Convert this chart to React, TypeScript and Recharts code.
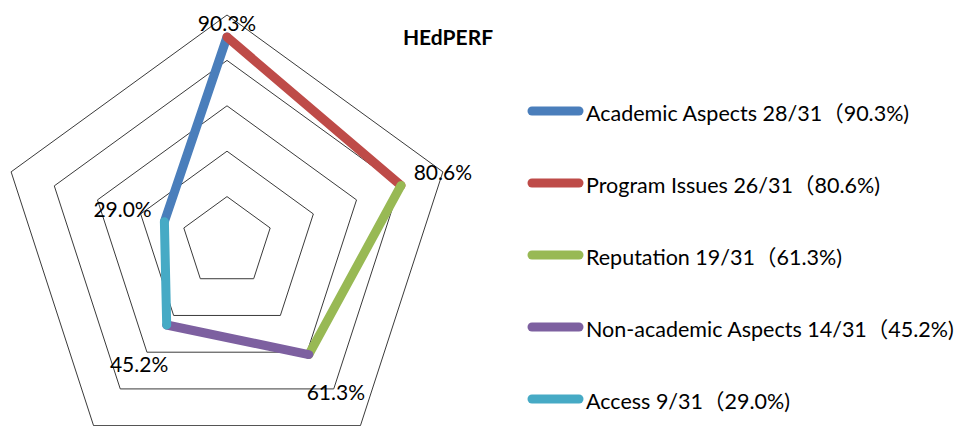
import React from 'react';
import { RadarChart, Radar, PolarGrid, PolarAngleAxis, PolarRadiusAxis, Legend } from 'recharts';

const categories = ['Academic Aspects', 'Program Issues', 'Reputation', 'Non-academic Aspects', 'Access'];
const percents = [90.3, 80.6, 61.3, 45.2, 29.0];
const counts = [28, 26, 19, 14, 9];
const total = 31;
const radiusTicks = [0, 20, 40, 60, 80, 100];
const colors = ['#4A7EBB', '#BE4B48', '#98B954', '#7D60A0', '#46AAC5'];

const FONT = 'Lato, "Noto Sans CJK SC", sans-serif';
const CX = 227;
const CY = 242;
const R = 227;
const labelOffsets = [15, 44, 46, 47, 44];

const seriesKeys = categories.map((_, i) => `s${i}`);

const data = categories.map((name, j) => {
  const row: Record<string, any> = { name, value: percents[j] };
  categories.forEach((_, i) => {
    const prev = (i - 1 + categories.length) % categories.length;
    row[seriesKeys[i]] = j === i || j === prev ? percents[j] : null;
  });
  return row;
});

const legendText = (i: number) =>
  `${categories[i]} ${counts[i]}/${total}（${percents[i].toFixed(1)}%)`;

const makeSegmentShape = (key: string, color: string) => (props: any) => {
  const pts = (props.points || []).filter((p: any) => p.payload && p.payload[key] != null);
  if (pts.length < 2) return <g />;
  return (
    <line
      x1={pts[0].x}
      y1={pts[0].y}
      x2={pts[1].x}
      y2={pts[1].y}
      stroke={color}
      strokeWidth={9}
      strokeLinecap="round"
    />
  );
};

const labelShape = (props: any) => {
  const pts = props.points || [];
  return (
    <g>
      {pts.map((p: any, i: number) => {
        const dx = p.x - p.cx;
        const dy = p.y - p.cy;
        const len = Math.sqrt(dx * dx + dy * dy) || 1;
        const off = labelOffsets[i];
        return (
          <text
            key={i}
            x={p.x + (dx / len) * off}
            y={p.y + (dy / len) * off}
            textAnchor="middle"
            dominantBaseline="central"
            fontFamily={FONT}
            fontSize={21}
            fill="#000"
          >
            {`${Number(p.value).toFixed(1)}%`}
          </text>
        );
      })}
    </g>
  );
};

const LegendContent = (props: any) => {
  const items = (props.payload || [])
    .filter((it: any) => seriesKeys.includes(it.dataKey))
    .sort((a: any, b: any) => seriesKeys.indexOf(a.dataKey) - seriesKeys.indexOf(b.dataKey));
  return (
    <div style={{ fontFamily: FONT }}>
      {items.map((it: any) => {
        const i = seriesKeys.indexOf(it.dataKey);
        return (
          <div key={it.dataKey} style={{ height: 72, display: 'flex', alignItems: 'center' }}>
            <svg width={59} height={12} style={{ flex: 'none' }}>
              <line x1={5} y1={6} x2={52} y2={6} stroke={colors[i]} strokeWidth={9} strokeLinecap="round" />
            </svg>
            <span style={{ fontSize: 21.5, color: '#000', whiteSpace: 'nowrap' }}>{legendText(i)}</span>
          </div>
        );
      })}
    </div>
  );
};

export default function App() {
  return (
    <div style={{ position: 'absolute', left: 0, top: 0, width: 962, height: 426, background: '#fff' }}>
      <RadarChart
        width={962}
        height={426}
        data={data}
        cx={CX}
        cy={CY}
        outerRadius={R}
        startAngle={90}
        endAngle={-270}
        margin={{ top: 0, right: 0, bottom: 0, left: 0 }}
      >
        <PolarGrid gridType="polygon" radialLines={false} stroke="#3a3a3a" strokeWidth={1} />
        <PolarAngleAxis dataKey="name" tick={false} axisLine={false} tickLine={false} />
        <PolarRadiusAxis
          domain={[0, 100]}
          ticks={radiusTicks as any}
          tick={false}
          axisLine={false}
          tickLine={false}
        />
        {seriesKeys.map((k, i) => (
          <Radar
            key={k}
            name={categories[i]}
            dataKey={k}
            stroke={colors[i]}
            fill="none"
            dot={false}
            isAnimationActive={false}
            shape={makeSegmentShape(k, colors[i])}
          />
        ))}
        <Radar
          dataKey="value"
          stroke="none"
          fill="none"
          dot={false}
          legendType="none"
          isAnimationActive={false}
          shape={labelShape}
        />
        <Legend
          layout="vertical"
          align="right"
          verticalAlign="top"
          content={<LegendContent />}
          wrapperStyle={{ position: 'absolute', left: 527, top: 75, width: 435 }}
        />
        <text x={448} y={36} textAnchor="middle" dominantBaseline="central" fontFamily={FONT} fontWeight="bold" fontSize={21} fill="#000">
          HEdPERF
        </text>
      </RadarChart>
    </div>
  );
}
